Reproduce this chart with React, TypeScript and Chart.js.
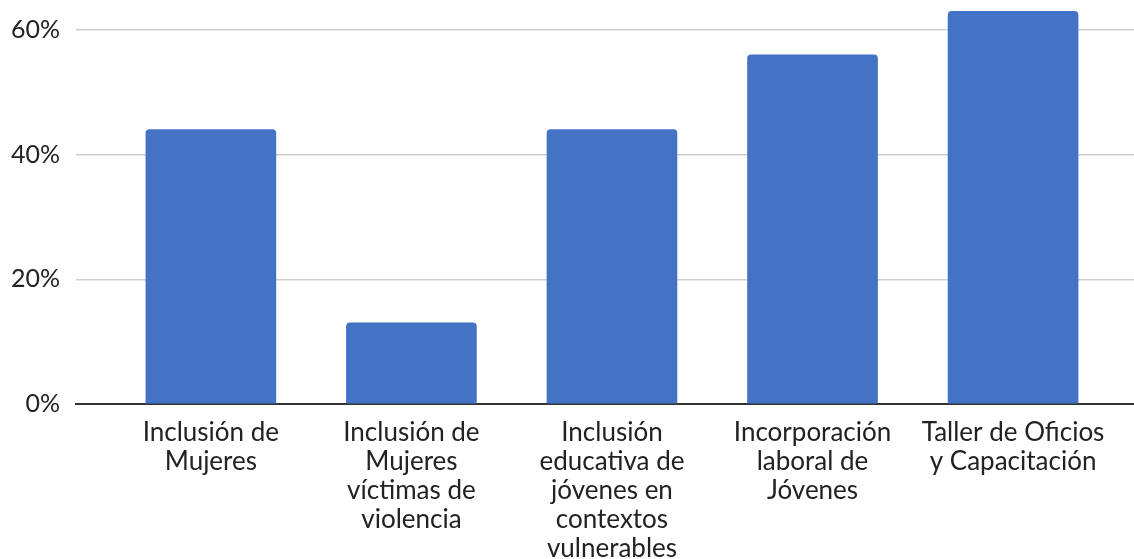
import React, { useEffect, useRef } from "react";
import { Chart, registerables } from "chart.js";

Chart.register(...registerables);

const categories: string[][] = [
  ["Inclusión de", "Mujeres"],
  ["Inclusión de", "Mujeres", "víctimas de", "violencia"],
  ["Inclusión", "educativa de", "jóvenes en", "contextos", "vulnerables"],
  ["Incorporación", "laboral de", "Jóvenes"],
  ["Taller de Oficios", "y Capacitación"],
];
const values: number[] = [0.44, 0.13, 0.44, 0.56, 0.63];
const yTicks: number[] = [0, 0.2, 0.4, 0.6];

const FONT = "Lato, 'Open Sans', sans-serif";

export default function App() {
  const ref = useRef<HTMLCanvasElement | null>(null);
  useEffect(() => {
    if (!ref.current) return;
    const chart = new Chart(ref.current, {
      type: "bar",
      data: {
        datasets: [
          {
            data: values.map((v, i) => ({ x: i, y: v })),
            backgroundColor: "#4472C4",
            borderRadius: { topLeft: 4, topRight: 4, bottomLeft: 0, bottomRight: 0 },
            borderSkipped: "start",
            barThickness: 130,
          },
        ],
      },
      options: {
        animation: false,
        responsive: false,
        maintainAspectRatio: false,
        layout: { padding: 0 },
        plugins: { legend: { display: false }, tooltip: { enabled: false } },
        scales: {
          x: {
            type: "linear",
            offset: false,
            min: -0.6725,
            max: 4.603,
            afterBuildTicks: (s: any) => {
              s.ticks = categories.map((_, i) => ({ value: i }));
            },
            afterFit: (s: any) => {
              s.height = 155;
              s.paddingLeft = 0;
              s.paddingRight = 0;
            },
            ticks: {
              autoSkip: false,
              maxRotation: 0,
              padding: 14,
              color: "#222",
              font: { family: FONT, size: 26, lineHeight: 1.12 },
              callback: (v: any) => categories[v as number] ?? "",
            },
            grid: { display: false, drawTicks: false },
            border: { display: true, color: "#333", width: 2 },
          },
          y: {
            min: 0,
            max: 0.648,
            afterBuildTicks: (s: any) => {
              s.ticks = yTicks.map((v) => ({ value: v }));
            },
            afterFit: (s: any) => {
              s.width = 76;
              s.paddingTop = 0;
              s.paddingBottom = 0;
            },
            ticks: {
              padding: 16,
              color: "#222",
              font: { family: FONT, size: 25 },
              callback: (v: any) => `${Math.round((v as number) * 100)}%`,
            },
            grid: {
              drawTicks: false,
              lineWidth: 1.5,
              color: (c: any) => (c.tick && c.tick.value === 0 ? "rgba(0,0,0,0)" : "#cfcfcf"),
            },
            border: { display: false },
          },
        },
      },
    });
    return () => chart.destroy();
  }, []);
  return (
    <div style={{ position: "fixed", left: 0, top: 0, width: 1134, height: 559, background: "#fff" }}>
      <canvas ref={ref} width={1134} height={559} style={{ width: 1134, height: 559 }} />
    </div>
  );
}
